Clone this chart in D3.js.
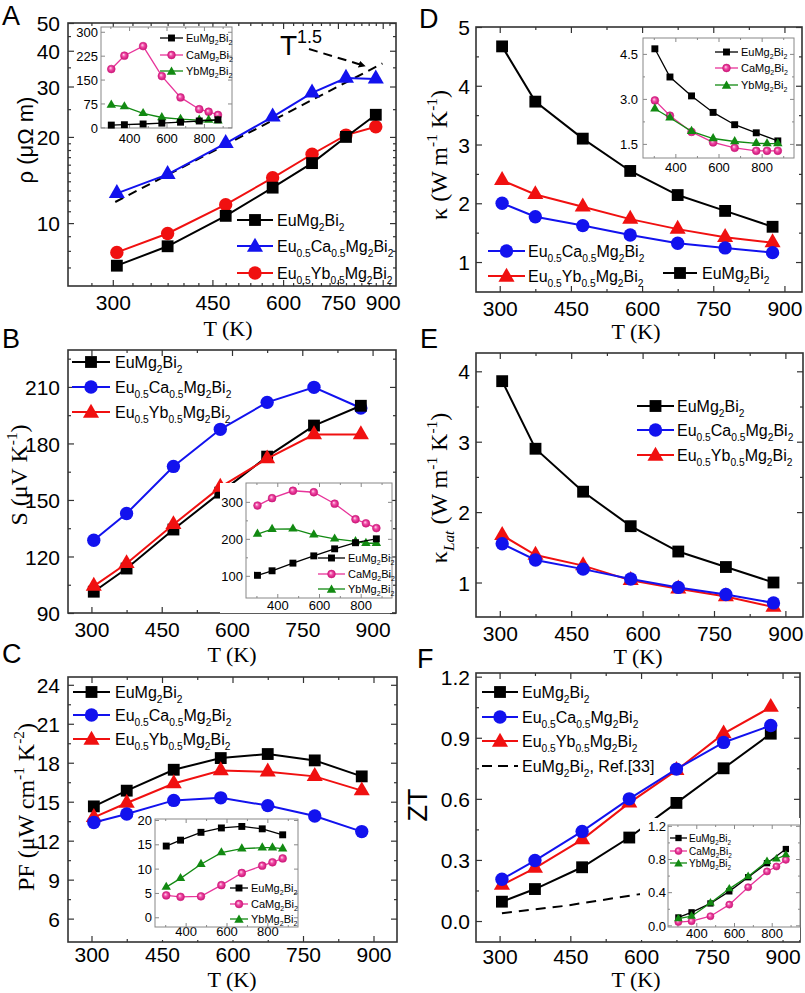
<!DOCTYPE html>
<html><head><meta charset="utf-8">
<script src="https://cdn.jsdelivr.net/npm/d3@7"></script>
<style>body{margin:0;background:#fff}svg{display:block}text{white-space:pre}</style>
</head><body>
<svg id="c" width="805" height="993"></svg>
<script>
// ---------------- DATA ----------------
const T  = [305, 375, 475, 575, 675, 775, 875];
const T8 = [305, 375, 475, 575, 675, 775, 825, 875];

// A: resistivity (log-log)
const rhoEu = [7.1, 8.3, 10.6, 13.3, 16.2, 20.0, 23.9];
const rhoCa = [12.7, 14.8, 19.0, 23.5, 28.5, 32.1, 31.9];
const rhoYb = [7.9, 9.2, 11.6, 14.4, 17.4, 20.3, 21.7];
const fitT = [303, 899];
const fitRho = [11.85, 36.1];
const rhoInCa = [183, 225, 255, 161, 94, 57, 49, 39];
const rhoInYb = [70, 65, 44, 31, 26, 23, 23, 21];

// B: Seebeck
const sEu = [101.3, 113.6, 134.3, 153.9, 173.0, 189.5, 200.0];
const sCa = [128.6, 142.8, 167.8, 187.5, 201.8, 209.8, 198.8];
const sYb = [104.3, 116.3, 137.0, 156.8, 171.9, 184.7, 184.7];
const sInCa = [290, 310, 330, 326, 295, 253, 242, 229];
const sInYb = [213, 226, 227, 211, 200, 193, 188, 188];

// C: power factor
const pfEu = [14.64, 15.85, 17.46, 18.36, 18.67, 18.18, 16.95];
const pfCa = [13.4, 14.05, 15.1, 15.3, 14.7, 13.9, 12.7];
const pfYb = [13.8, 14.9, 16.4, 17.4, 17.3, 16.95, 15.85];
const pfInCa = [4.5, 4.2, 4.3, 6.6, 9.1, 10.6, 11.3, 12.1];
const pfInYb = [6.2, 8.0, 10.9, 13.3, 14.1, 14.3, 14.3, 14.1];

// D: thermal conductivity
const kEu = [4.67, 3.73, 3.10, 2.55, 2.14, 1.87, 1.60];
const kCa = [2.00, 1.77, 1.62, 1.46, 1.32, 1.24, 1.16];
const kYb = [2.39, 2.15, 1.94, 1.73, 1.56, 1.42, 1.33];
const kInCa = [2.95, 2.44, 1.90, 1.55, 1.37, 1.27, 1.27, 1.27];
const kInYb = [2.67, 2.37, 1.92, 1.68, 1.58, 1.52, 1.51, 1.51];

// E: lattice thermal conductivity
const klEu = [3.86, 2.90, 2.29, 1.80, 1.44, 1.22, 1.00];
const klCa = [1.55, 1.32, 1.19, 1.05, 0.93, 0.83, 0.71];
const klYb = [1.67, 1.39, 1.24, 1.03, 0.91, 0.80, 0.65];

// F: ZT
const ztEu = [0.095, 0.157, 0.264, 0.41, 0.58, 0.75, 0.92];
const ztCa = [0.205, 0.297, 0.44, 0.60, 0.746, 0.877, 0.96];
const ztYb = [0.177, 0.26, 0.40, 0.58, 0.74, 0.92, 1.05];
const refT = [305, 440, 600];
const refZT = [0.038, 0.075, 0.133];
const ztInCa = [0.04, 0.05, 0.11, 0.25, 0.46, 0.65, 0.71, 0.79];
const ztInYb = [0.08, 0.11, 0.27, 0.44, 0.59, 0.77, 0.80, 0.85];

// tick values
const xTicksMain = [300, 450, 600, 750, 900];
const xMinorMain = [375, 525, 675, 825];
const xMinorLog = d3.range(275, 950, 25).filter(v => !xTicksMain.includes(v));
const xTicksIn = [400, 600, 800];
const xMinorIn = [300, 500, 700, 900];

const labEu = "EuMg_2Bi_2", labCa = "Eu_{0.5}Ca_{0.5}Mg_2Bi_2", labYb = "Eu_{0.5}Yb_{0.5}Mg_2Bi_2";
const inEu = "EuMg_2Bi_2", inCa = "CaMg_2Bi_2", inYb = "YbMg_2Bi_2";

// ---------------- STYLE ----------------
const SANS = "'Liberation Sans', Arial, Helvetica, sans-serif";
const SERIF = "'Liberation Serif', 'Times New Roman', serif";
const BLACK = '#000', BLUE = '#1212ee', RED = '#f01010', GREEN = '#128a12', PINK = '#e8349a';

const svg = d3.select('#c');
const defs = svg.append('defs');
const rg = defs.append('radialGradient').attr('id', 'pinkBall').attr('cx', 0.5).attr('cy', 0.5).attr('r', 0.5).attr('fx', 0.38).attr('fy', 0.35);
rg.append('stop').attr('offset', 0).attr('stop-color', '#ffe0f0');
rg.append('stop').attr('offset', 0.45).attr('stop-color', '#f04aa6');
rg.append('stop').attr('offset', 1).attr('stop-color', '#cc1476');
defs.append('marker').attr('id', 'arrow').attr('viewBox', '0 0 10 10').attr('refX', 9).attr('refY', 5)
  .attr('markerWidth', 7).attr('markerHeight', 7).attr('orient', 'auto').attr('markerUnits', 'userSpaceOnUse')
  .append('path').attr('d', 'M0,0 L10,5 L0,10 z').attr('fill', '#000');

function rich(sel, str, fs) {
  const segs = [];
  let i = 0, buf = '';
  while (i < str.length) {
    const ch = str[i];
    if (ch === '_' || ch === '^') {
      if (buf) segs.push({ t: buf, m: 'n' }); buf = '';
      const m = ch === '_' ? 'sub' : 'sup'; i++;
      let t;
      if (str[i] === '{') { const j = str.indexOf('}', i); t = str.slice(i + 1, j); i = j + 1; }
      else { t = str[i]; i++; }
      segs.push({ t, m });
    } else { buf += ch; i++; }
  }
  if (buf) segs.push({ t: buf, m: 'n' });
  let cur = 0;
  segs.forEach(s => {
    const target = s.m === 'sub' ? 0.3 * fs : s.m === 'sup' ? -0.42 * fs : 0;
    let txt = s.t, ital = false;
    if (txt[0] === '*') { txt = txt.slice(1); ital = true; }
    const ts = sel.append('tspan').attr('dy', target - cur).text(txt);
    if (s.m !== 'n') ts.attr('font-size', 0.64 * fs);
    if (ital) ts.attr('font-style', 'italic');
    cur = target;
  });
  return sel;
}

function txt(x, y, str, fs, fam, anchor, rot) {
  const t = svg.append('text').attr('font-size', fs).attr('font-family', fam).attr('fill', '#000')
    .attr('text-anchor', anchor || 'start');
  if (rot) t.attr('transform', `translate(${x},${y}) rotate(-90)`);
  else t.attr('x', x).attr('y', y);
  return rich(t, str, fs);
}

function panel(o) {
  const x = (o.xlog ? d3.scaleLog() : d3.scaleLinear()).domain(o.xd).range([o.l, o.r]);
  const y = (o.ylog ? d3.scaleLog() : d3.scaleLinear()).domain(o.yd).range([o.b, o.t]);
  const g = svg.append('g');
  (o.bg || []).forEach(r => g.append('rect').attr('x', r[0]).attr('y', r[1]).attr('width', r[2]).attr('height', r[3]).attr('fill', '#fff'));
  const ax = g.append('g');
  const mk = (fn, sc, vals, size, fmt, tr) => {
    const a = fn(sc).tickValues(vals).tickSizeInner(size).tickSizeOuter(0).tickFormat(fmt || '');
    const s = ax.append('g').attr('transform', tr).call(a);
    s.select('.domain').remove();
    s.selectAll('line').attr('stroke', o.fc).attr('stroke-width', o.tw);
    return s;
  };
  const bt = mk(d3.axisBottom, x, o.xt, -o.tl, o.xf || d3.format('d'), `translate(0,${o.b})`);
  bt.selectAll('text').attr('dy', null).attr('y', o.xly).attr('font-size', o.fs).attr('font-family', SANS).attr('fill', '#000');
  mk(d3.axisBottom, x, o.xm, -o.tlm, null, `translate(0,${o.b})`);
  mk(d3.axisTop, x, o.xt, -o.tl, null, `translate(0,${o.t})`);
  mk(d3.axisTop, x, o.xm, -o.tlm, null, `translate(0,${o.t})`);
  const lt = mk(d3.axisLeft, y, o.yt, -o.tl, o.yf || d3.format('d'), `translate(${o.l},0)`);
  lt.selectAll('text').attr('x', -o.ylx).attr('dy', '0.36em').attr('font-size', o.fs).attr('font-family', SANS).attr('fill', '#000');
  mk(d3.axisLeft, y, o.ym, -o.tlm, null, `translate(${o.l},0)`);
  mk(d3.axisRight, y, o.yt, -o.tl, null, `translate(${o.r},0)`);
  mk(d3.axisRight, y, o.ym, -o.tlm, null, `translate(${o.r},0)`);
  g.append('rect').attr('x', o.l).attr('y', o.t).attr('width', o.r - o.l).attr('height', o.b - o.t)
    .attr('fill', 'none').attr('stroke', o.fc).attr('stroke-width', o.fw);
  return { x, y, g };
}

const SHAPES = { sq: d3.symbolSquare, ci: d3.symbolCircle, tr: d3.symbolTriangle };
function markerAttrs(sel, col, shape) {
  if (col === PINK) sel.attr('fill', 'url(#pinkBall)').attr('stroke', '#d02080').attr('stroke-width', 0.6);
  else sel.attr('fill', col);
}
function series(p, xs, ys, col, shape, size, lw, dash) {
  const line = d3.line().x((d, i) => p.x(xs[i])).y(d => p.y(d));
  const path = p.g.append('path').datum(ys).attr('d', line).attr('fill', 'none').attr('stroke', col).attr('stroke-width', lw);
  if (dash) path.attr('stroke-dasharray', dash);
  if (!shape) return;
  const sz = shape === 'tr' ? size * 0.8 : size;
  p.g.selectAll(null).data(ys).join('path')
    .attr('transform', (d, i) => `translate(${p.x(xs[i])},${p.y(d)})`)
    .attr('d', d3.symbol(SHAPES[shape], sz))
    .call(markerAttrs, col, shape);
}
function legend(items, x0, x1, ys, fs, size, lw, gap) {
  items.forEach((it, i) => {
    const y = ys[i];
    const l = svg.append('line').attr('x1', x0).attr('x2', x1).attr('y1', y).attr('y2', y)
      .attr('stroke', it.c).attr('stroke-width', lw);
    if (it.dash) l.attr('stroke-dasharray', it.dash);
    if (it.s) {
      const sz = it.s === 'tr' ? size * 0.8 : size;
      svg.append('path').attr('transform', `translate(${(x0 + x1) / 2},${y + (it.s === 'tr' ? 1 : 0)})`)
        .attr('d', d3.symbol(SHAPES[it.s], sz)).call(markerAttrs, it.c, it.s);
    }
    txt(x1 + gap, y + 0.36 * fs, it.t, fs, SANS);
  });
}

const MAIN = { fs: 21, tl: 6, tlm: 3, fc: '#333', tw: 1.2, fw: 1.6 };
const INSET = { fs: 13, tl: 4, tlm: 2, fc: '#888', tw: 1, fw: 1 };
const MS = 140, LW = 2, IMS = 48, ILW = 1.3;

// ---------------- PANEL A ----------------
const pA = panel(Object.assign({}, MAIN, { l: 68, r: 396, t: 23, b: 286, xlog: true, ylog: true,
  xd: [250, 950], yd: [6.03, 50], xt: xTicksMain, xm: xMinorLog,
  yt: [10, 20, 30, 40, 50], ym: [7, 8, 9, 11, 12, 13, 14, 15, 16, 17, 18, 19, 25, 35, 45], xly: 24, ylx: 8 }));
series(pA, fitT, fitRho, BLACK, null, 0, 2, '9,6');
series(pA, T, rhoCa, BLUE, 'tr', MS, LW);
series(pA, T, rhoYb, RED, 'ci', MS, LW);
series(pA, T, rhoEu, BLACK, 'sq', MS, LW);
legend([{ t: labEu, c: BLACK, s: 'sq' }, { t: labCa, c: BLUE, s: 'tr' }, { t: labYb, c: RED, s: 'ci' }],
  237, 273, [220, 246, 273], 16, MS, LW, 4);
txt(280, 55, "T^{1.5}", 28, SANS);
svg.append('line').attr('x1', 309).attr('y1', 49).attr('x2', 365).attr('y2', 66).attr('stroke', '#000')
  .attr('stroke-width', 2).attr('stroke-dasharray', '9,6').attr('marker-end', 'url(#arrow)');

const pAi = panel(Object.assign({}, INSET, { l: 101, r: 232, t: 27, b: 128, xd: [250, 950], yd: [-2, 315],
  xt: xTicksIn, xm: xMinorIn, yt: [0, 75, 150, 225, 300], ym: [], xly: 15, ylx: 3,
  bg: [[76, 27, 156, 104], [101, 128, 112, 20]] }));
series(pAi, T8, rhoInCa, PINK, 'ci', IMS, ILW);
series(pAi, T8, rhoInYb, GREEN, 'tr', IMS, ILW);
series(pAi, T, rhoEu, BLACK, 'sq', IMS, ILW);
legend([{ t: inEu, c: BLACK, s: 'sq' }, { t: inCa, c: PINK, s: 'ci' }, { t: inYb, c: GREEN, s: 'tr' }],
  160, 183, [38, 55, 71], 11, IMS, ILW, 3);

// ---------------- PANEL B ----------------
const pB = panel(Object.assign({}, MAIN, { l: 68, r: 396, t: 350, b: 613, xd: [250, 950], yd: [90, 229.6],
  xt: xTicksMain, xm: xMinorMain, yt: d3.range(90, 211, 30), ym: d3.range(105, 226, 30), xly: 24, ylx: 8 }));
series(pB, T, sCa, BLUE, 'ci', MS, LW);
series(pB, T, sEu, BLACK, 'sq', MS, LW);
series(pB, T, sYb, RED, 'tr', MS, LW);
legend([{ t: labEu, c: BLACK, s: 'sq' }, { t: labCa, c: BLUE, s: 'ci' }, { t: labYb, c: RED, s: 'tr' }],
  72, 110, [362, 387, 412], 16, MS, LW, 5);

const pBi = panel(Object.assign({}, INSET, { l: 246, r: 392, t: 483, b: 598, xd: [250, 950], yd: [40, 351],
  xt: xTicksIn, xm: xMinorIn, yt: [100, 200, 300], ym: [150, 250], xly: 12, ylx: 3,
  bg: [[220, 483, 172, 130]] }));
series(pBi, T8, sInCa, PINK, 'ci', IMS, ILW);
series(pBi, T8, sInYb, GREEN, 'tr', IMS, ILW);
series(pBi, T, sEu, BLACK, 'sq', IMS, ILW);
legend([{ t: inEu, c: BLACK, s: 'sq' }, { t: inCa, c: PINK, s: 'ci' }, { t: inYb, c: GREEN, s: 'tr' }],
  318, 345, [558, 574, 589], 11, IMS, ILW, 3);

// ---------------- PANEL C ----------------
const pC = panel(Object.assign({}, MAIN, { l: 68, r: 397, t: 677, b: 942, xd: [250, 950], yd: [4.2, 24.6],
  xt: xTicksMain, xm: xMinorMain, yt: d3.range(6, 25, 3), ym: [7.5, 10.5, 13.5, 16.5, 19.5, 22.5], xly: 20, ylx: 8 }));
series(pC, T, pfEu, BLACK, 'sq', MS, LW);
series(pC, T, pfYb, RED, 'tr', MS, LW);
series(pC, T, pfCa, BLUE, 'ci', MS, LW);
legend([{ t: labEu, c: BLACK, s: 'sq' }, { t: labCa, c: BLUE, s: 'ci' }, { t: labYb, c: RED, s: 'tr' }],
  73, 110, [692, 715, 739], 16, MS, LW, 5);

const pCi = panel(Object.assign({}, INSET, { l: 155, r: 298, t: 819, b: 927, xd: [250, 950], yd: [-2, 20.2],
  xt: xTicksIn, xm: xMinorIn, yt: [0, 5, 10, 15, 20], ym: [], xly: 9, ylx: 3,
  bg: [[133, 815, 165, 125]] }));
series(pCi, T, pfEu, BLACK, 'sq', IMS, ILW);
series(pCi, T8, pfInYb, GREEN, 'tr', IMS, ILW);
series(pCi, T8, pfInCa, PINK, 'ci', IMS, ILW);
legend([{ t: inEu, c: BLACK, s: 'sq' }, { t: inCa, c: PINK, s: 'ci' }, { t: inYb, c: GREEN, s: 'tr' }],
  230, 248, [888, 904, 919], 11, IMS, ILW, 3);

// ---------------- PANEL D ----------------
const pD = panel(Object.assign({}, MAIN, { l: 476, r: 802, t: 27, b: 292, xd: [250, 937], yd: [0.49, 5],
  xt: xTicksMain, xm: xMinorMain, yt: [1, 2, 3, 4, 5], ym: [1.5, 2.5, 3.5, 4.5], xly: 24, ylx: 6 }));
series(pD, T, kEu, BLACK, 'sq', MS, LW);
series(pD, T, kYb, RED, 'tr', MS, LW);
series(pD, T, kCa, BLUE, 'ci', MS, LW);
legend([{ t: labCa, c: BLUE, s: 'ci' }, { t: labYb, c: RED, s: 'tr' }], 488, 525, [251, 276], 16, MS, LW, 3);
legend([{ t: labEu, c: BLACK, s: 'sq' }], 663, 697, [273], 16, MS, LW, 5);

const pDi = panel(Object.assign({}, INSET, { l: 643, r: 794, t: 38, b: 158, xd: [250, 950], yd: [1.03, 5.03],
  xt: xTicksIn, xm: xMinorIn, yt: [1.5, 3.0, 4.5], ym: [2.25, 3.75], xly: 14, ylx: 5, yf: d3.format('.1f'),
  bg: [[615, 38, 179, 120], [643, 158, 151, 16]] }));
series(pDi, T, kEu, BLACK, 'sq', IMS, ILW);
series(pDi, T8, kInCa, PINK, 'ci', IMS, ILW);
series(pDi, T8, kInYb, GREEN, 'tr', IMS, ILW);
legend([{ t: inEu, c: BLACK, s: 'sq' }, { t: inCa, c: PINK, s: 'ci' }, { t: inYb, c: GREEN, s: 'tr' }],
  715, 738, [52, 68, 85], 11, IMS, ILW, 3);

// ---------------- PANEL E ----------------
const pE = panel(Object.assign({}, MAIN, { l: 476, r: 803, t: 353, b: 617, xd: [250, 937], yd: [0.51, 4.26],
  xt: xTicksMain, xm: xMinorMain, yt: [1, 2, 3, 4], ym: [1.5, 2.5, 3.5], xly: 24, ylx: 6 }));
series(pE, T, klEu, BLACK, 'sq', MS, LW);
series(pE, T, klYb, RED, 'tr', MS, LW);
series(pE, T, klCa, BLUE, 'ci', MS, LW);
legend([{ t: labEu, c: BLACK, s: 'sq' }, { t: labCa, c: BLUE, s: 'ci' }, { t: labYb, c: RED, s: 'tr' }],
  637, 674, [406, 430, 455], 16, MS, LW, 3);

// ---------------- PANEL F ----------------
const pF = panel(Object.assign({}, MAIN, { l: 476, r: 800, t: 673, b: 942, xd: [250, 937], yd: [-0.103, 1.218],
  xt: xTicksMain, xm: xMinorMain, yt: [0, 0.3, 0.6, 0.9, 1.2], ym: [0.15, 0.45, 0.75, 1.05], xly: 22, ylx: 6,
  yf: d3.format('.1f') }));
series(pF, refT, refZT, BLACK, null, 0, 2, '10,7');
series(pF, T, ztEu, BLACK, 'sq', MS, LW);
series(pF, T, ztYb, RED, 'tr', MS, LW);
series(pF, T, ztCa, BLUE, 'ci', MS, LW);
legend([{ t: labEu, c: BLACK, s: 'sq' }, { t: labCa, c: BLUE, s: 'ci' }, { t: labYb, c: RED, s: 'tr' },
  { t: "EuMg_2Bi_2, Ref.[33]", c: BLACK, dash: '10,6' }], 482, 518, [692, 717, 741, 766], 16, MS, LW, 4);

const pFi = panel(Object.assign({}, INSET, { l: 668, r: 800, t: 825, b: 927, xd: [250, 950], yd: [-0.02, 1.21],
  xt: xTicksIn, xm: xMinorIn, yt: [0, 0.4, 0.8, 1.2], ym: [0.2, 0.6, 1.0], xly: 11, ylx: 2, yf: d3.format('.1f'),
  bg: [[640, 818, 160, 122]] }));
series(pFi, T8, ztInCa, PINK, 'ci', 40, ILW);
series(pFi, T, ztEu, BLACK, 'sq', 40, ILW);
series(pFi, T8, ztInYb, GREEN, 'tr', 40, ILW);
legend([{ t: inEu, c: BLACK, s: 'sq' }, { t: inCa, c: PINK, s: 'ci' }, { t: inYb, c: GREEN, s: 'tr' }],
  670, 687, [838, 851, 863], 10, 40, ILW, 2);

// ---------------- TITLES ----------------
[[228, 336], [232, 662], [232, 987], [636, 339], [638, 664], [636, 987]].forEach(p => txt(p[0], p[1], "T (K)", 22, SERIF, 'middle'));
txt(33, 140, "ρ (μΩ m)", 22, SANS, 'middle', true);
txt(27, 475, "S (μV K^{-1})", 24, SERIF, 'middle', true);
txt(34, 807, "PF (μW cm^{-1} K^{-2})", 24, SERIF, 'middle', true);
txt(447, 155, "κ (W m^{-1} K^{-1})", 24, SERIF, 'middle', true);
txt(447, 488, "κ_{*Lat} (W m^{-1} K^{-1})", 24, SERIF, 'middle', true);
txt(427, 805, "ZT", 27, SANS, 'middle', true);
[['A', 2, 25], ['B', 2, 348], ['C', 2, 663], ['D', 419, 28], ['E', 420, 348], ['F', 417, 668]]
  .forEach(d => txt(d[1], d[2], d[0], 27, SANS));
</script>
</body></html>
